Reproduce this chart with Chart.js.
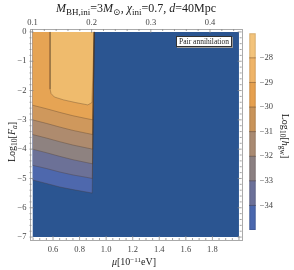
<!DOCTYPE html>
<html><head><meta charset="utf-8">
<script src="https://cdn.jsdelivr.net/npm/chart.js@4"></script>
<style>
body{margin:0;background:#fff;}
#wrap{position:relative;width:294px;height:270px;font-family:"Liberation Serif","DejaVu Serif",serif;color:#222;overflow:hidden;}
canvas{position:absolute;top:0;}
.lbl{position:absolute;white-space:nowrap;font-size:10px;line-height:12px;}
.rot{position:absolute;white-space:nowrap;font-size:10px;line-height:12px;height:12px;width:80px;text-align:center;}
.sb{position:relative;top:0.3em;font-size:0.75em;}
.sp{position:relative;top:-0.45em;font-size:0.7em;}
#pa{position:absolute;left:176px;top:36px;width:54px;height:9px;border:1px solid #333;background:#fff;font-size:7.5px;line-height:9px;text-align:center;box-shadow:1px 1px 0 #999;}
</style></head>
<body><div id="wrap">
<canvas id="main" width="294" height="270" style="left:0"></canvas>
<canvas id="cb" width="54" height="270" style="left:240px"></canvas>
<div class="lbl" style="left:0;width:272px;text-align:center;top:1px;font-size:12px;line-height:14px"><i>M</i><span class="sb">BH,ini</span>=3<i>M</i><span class="sb">⊙</span>, <i>χ</i><span class="sb">ini</span>=0.7, <i>d</i>=40Mpc</div>
<div class="lbl" style="left:0;width:268px;text-align:center;top:256px"><i>μ</i>[10<span class="sp">−11</span>eV]</div>
<div class="rot" style="left:-28px;top:136px;transform:rotate(-90deg)">Log<span class="sb">10</span>[<i>F</i><span class="sb"><i>a</i></span>]</div>
<div class="rot" style="left:245px;top:130px;transform:rotate(90deg)">Log<span class="sb">10</span>[<i>h</i><span class="sb">gw</span>]</div>
<div id="pa">Pair annihilation</div>
</div>
<script>
// ---- data ----
const muRange = [0.4455, 2.0];          // data region in mu [1e-11 eV]
const logFRange = [-7, 0];             // data region in Log10[F_a]
const alphaPerMu = 0.2245;             // top axis: alpha = 0.2245 * mu
const xTicks = [0.6, 0.8, 1.0, 1.2, 1.4, 1.6, 1.8];
const yTicks = [0, -1, -2, -3, -4, -5, -6, -7];
const alphaTicks = [0.1, 0.2, 0.3, 0.4];
const cbTicks = [-28, -29, -30, -31, -32, -33, -34];
const cbLevels = [-35, -34, -33, -32, -31, -30, -29, -28, -27];
const contourLevels = [-28, -29, -30, -31, -32, -33, -34];
// contour lines as [mu, log10 F_a]
const c28 = [[0.578,0],[0.578,-1.95],[0.585,-2.1],[0.61,-2.22],[0.68,-2.32],[0.77,-2.41],[0.862,-2.49],[0.893,-2.41],[0.91,0]];
const c29 = [[0.4455,-2.5],[0.55,-2.62],[0.65,-2.745],[0.75,-2.86],[0.85,-2.955],[0.9,-3.0],[0.91,0]];
const c30 = [[0.4455,-3.0],[0.55,-3.12],[0.65,-3.245],[0.75,-3.36],[0.85,-3.455],[0.899,-3.5],[0.91,0]];
const c31 = [[0.4455,-3.5],[0.55,-3.62],[0.65,-3.745],[0.75,-3.86],[0.85,-3.955],[0.898,-4.0],[0.91,0]];
const c32 = [[0.4455,-4.0],[0.55,-4.12],[0.65,-4.245],[0.75,-4.36],[0.85,-4.455],[0.897,-4.5],[0.91,0]];
const c33 = [[0.4455,-4.55],[0.55,-4.66],[0.65,-4.78],[0.75,-4.88],[0.85,-4.96],[0.896,-5.0],[0.91,0]];
const c34 = [[0.4455,-5.05],[0.55,-5.17],[0.65,-5.29],[0.75,-5.38],[0.85,-5.46],[0.895,-5.5],[0.91,0]];
const contourLines = [c28, c29, c30, c31, c32, c33, c34];

// ---- styles ----
const bgColor = '#2b5591';
const bandColors = ['#efbb6d','#e6a454','#cf985c','#ae8b6e','#8e8280','#6c7197','#4e68ad'];
const cbColors = ['#4a67ae','#6b7099','#8b8082','#a98a72','#c9945a','#e6a04f','#efb468','#f3c37b'];
const lineColor = 'rgba(70,50,35,0.45)';
const tickFont = {family:'"Liberation Serif", serif', size:8.5};
const frameColor = '#aaaaaa';
const noGrid = {display: false, drawTicks: false, tickLength: 0};

const xMin = muRange[0] - 0.0225, xMax = muRange[1] + 0.0205;
const yMin = logFRange[0] - 0.1, yMax = logFRange[1] + 0.1;
const fmtMinus = v => (v < 0 ? '\u2212' + Math.abs(v) : String(v));

const datasets = contourLines.map((pts, i) => ({
  data: pts.map(p => ({x:p[0], y:p[1]})),
  showLine: true, pointRadius: 0, borderWidth: 0.7, borderColor: lineColor,
  backgroundColor: bandColors[i], fill: {value: logFRange[1]}, order: i
}));
datasets.push({
  data: [{x:muRange[0], y:logFRange[0]}, {x:muRange[1], y:logFRange[0]}],
  showLine: true, pointRadius: 0, borderWidth: 0, backgroundColor: bgColor,
  fill: {value: logFRange[1]}, order: 99
});

const framePlugin = {
  id: 'frame',
  afterDraw(chart) {
    const {ctx, chartArea: a, scales} = chart;
    ctx.save();
    ctx.strokeStyle = frameColor; ctx.lineWidth = 1;
    ctx.strokeRect(Math.round(a.left)+0.5, Math.round(a.top)+0.5, Math.round(a.right-a.left), Math.round(a.bottom-a.top));
    ctx.strokeStyle = '#8a8a8a'; ctx.lineWidth = 0.8;
    const tick = (x1,y1,x2,y2) => { ctx.beginPath(); ctx.moveTo(x1,y1); ctx.lineTo(x2,y2); ctx.stroke(); };
    for (let k = 9; k <= 40; k++) { const v = k*0.05; const px = scales.x.getPixelForValue(v);
      if (px < a.left || px > a.right) continue;
      const L = (k % 4 === 0) ? 4 : 2; tick(px, a.bottom, px, a.bottom - L); }
    for (let k = 5; k <= 22; k++) { const v = k*0.02; const px = scales.x2.getPixelForValue(v);
      if (px < a.left || px > a.right) continue;
      const L = (k % 5 === 0) ? 4 : 2; tick(px, a.top, px, a.top + L); }
    for (let k = -35; k <= 0; k++) { const v = k*0.2; const py = scales.y.getPixelForValue(v);
      const L = (k % 5 === 0) ? 4 : 2; tick(a.left, py, a.left + L, py); tick(a.right, py, a.right - L, py); }
    ctx.restore();
  }
};

new Chart(document.getElementById('main'), {
  type: 'scatter',
  data: {datasets},
  options: {
    responsive: false, animation: false, devicePixelRatio: 1,
    layout: {padding: {left: 0, right: 52.3, top: 0, bottom: 0}},
    plugins: {legend: {display: false}, tooltip: {enabled: false}, filler: {drawTime: 'beforeDatasetsDraw'}},
    scales: {
      x: {type: 'linear', position: 'bottom', min: xMin, max: xMax,
        afterFit(s) { s.height = 30; },
        afterBuildTicks(s) { s.ticks = xTicks.map(v => ({value: v})); },
        ticks: {font: tickFont, color: '#444', padding: 5, maxRotation: 0, autoSkip: false, callback: v => v.toFixed(1)},
        grid: noGrid, border: {display: false}},
      x2: {type: 'linear', position: 'top', min: xMin*alphaPerMu, max: xMax*alphaPerMu,
        afterFit(s) { s.height = 29; },
        afterBuildTicks(s) { s.ticks = alphaTicks.map(v => ({value: v})); },
        ticks: {font: tickFont, color: '#444', padding: 1, maxRotation: 0, autoSkip: false, callback: v => v.toFixed(1)},
        grid: noGrid, border: {display: false}},
      y: {type: 'linear', position: 'left', min: yMin, max: yMax,
        afterFit(s) { s.width = 29.5; },
        afterBuildTicks(s) { s.ticks = yTicks.map(v => ({value: v})); },
        ticks: {font: tickFont, color: '#444', padding: 3, autoSkip: false, callback: fmtMinus},
        grid: noGrid, border: {display: false}}
    }
  },
  plugins: [framePlugin]
});

// ---- colour bar ----
const cbDatasets = cbColors.map((c, i) => ({
  data: [[cbLevels[i], cbLevels[i+1]]], backgroundColor: c, borderWidth: 0,
  barPercentage: 1, categoryPercentage: 1
}));
const cbPlugin = {
  id: 'cblines',
  afterDatasetsDraw(chart) {
    const {ctx, chartArea: a, scales} = chart;
    ctx.save();
    ctx.strokeStyle = 'rgba(80,55,35,0.5)'; ctx.lineWidth = 0.8;
    cbTicks.forEach(v => { const py = scales.y.getPixelForValue(v);
      ctx.beginPath(); ctx.moveTo(a.left, py); ctx.lineTo(a.right, py); ctx.stroke(); });
    ctx.strokeStyle = 'rgba(0,0,0,0.12)'; ctx.lineWidth = 1;
    ctx.strokeRect(a.left + 0.5, a.top + 0.5, a.right - a.left - 1, a.bottom - a.top - 1);
    ctx.restore();
  }
};
new Chart(document.getElementById('cb'), {
  type: 'bar',
  data: {labels: [''], datasets: cbDatasets},
  options: {
    responsive: false, animation: false, devicePixelRatio: 1,
    layout: {padding: {left: 9.3, top: 33.3, bottom: 40, right: 0}},
    plugins: {legend: {display: false}, tooltip: {enabled: false}},
    scales: {
      x: {display: false, stacked: true},
      y: {position: 'right', min: cbLevels[0], max: cbLevels[cbLevels.length-1], stacked: false,
        afterFit(s) { s.width = 38.3; },
        afterBuildTicks(s) { s.ticks = cbTicks.map(v => ({value: v})); },
        ticks: {font: tickFont, color: '#444', padding: 4, autoSkip: false, callback: fmtMinus},
        grid: noGrid, border: {display: false}}
    }
  },
  plugins: [cbPlugin]
});
</script>
</body></html>
